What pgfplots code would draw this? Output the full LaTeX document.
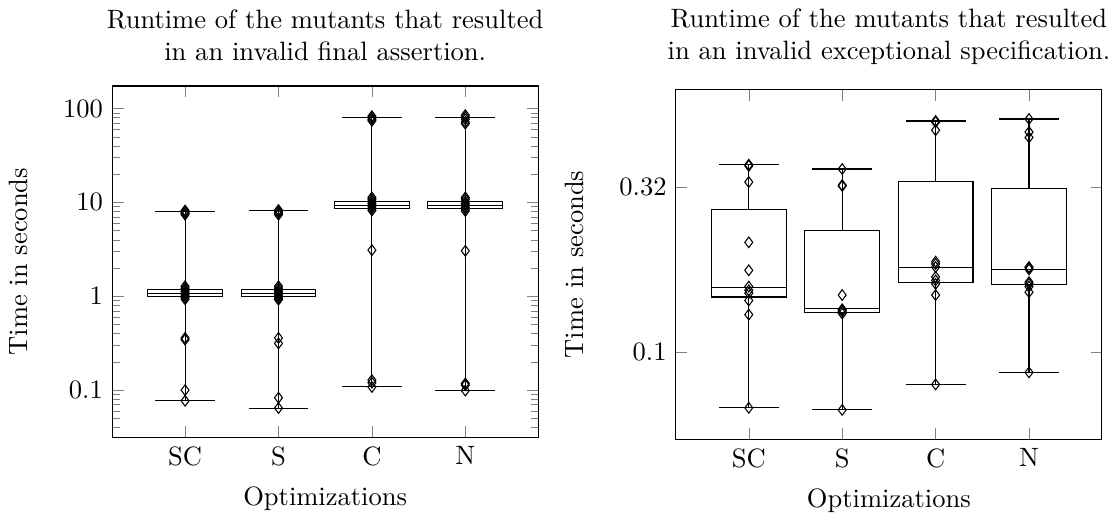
\documentclass[border=0pt]{standalone}
\usepackage{pgfplots}
\pgfplotsset{compat=1.18}
\usepgfplotslibrary{statistics}

\begin{document}
\begin{tikzpicture}
% invalid final assertion
\begin{axis}[at={(0pt,0pt)},
    scale only axis, width=160.5pt, height=132.3pt,
    ymode=log, log ticks with fixed point,
    xmin=0.22, xmax=4.78, ymin=0.0316, ymax=174,
    xtick={1,2,3,4}, xticklabels={SC,S,C,N},
    xlabel={Optimizations}, ylabel={Time in seconds},
    ylabel shift=6.5pt, xlabel shift=1pt,
    title style={align=center},
    title={Runtime of the mutants that resulted\\in an invalid final assertion.},
    boxplot/draw direction=y]
\addplot[black, mark=diamond, boxplot prepared={draw position=1,
    lower whisker=0.0776, lower quartile=0.99, median=1.06,
    upper quartile=1.19, upper whisker=8.05}]
  table[row sep=\\, y index=0] {data\\ 8.2\\ 8.0\\ 7.8\\ 7.6\\ 7.4\\ 1.28\\ 1.22\\ 1.17\\ 1.12\\ 1.08\\ 1.04\\ 1.0\\ 0.97\\ 0.93\\ 0.36\\ 0.345\\ 0.1\\ 0.077\\};
\addplot[black, mark=diamond, boxplot prepared={draw position=2,
    lower whisker=0.0645, lower quartile=0.99, median=1.06,
    upper quartile=1.19, upper whisker=8.23}]
  table[row sep=\\, y index=0] {data\\ 8.3\\ 8.0\\ 7.7\\ 7.4\\ 1.28\\ 1.22\\ 1.16\\ 1.11\\ 1.07\\ 1.03\\ 0.99\\ 0.95\\ 0.92\\ 0.36\\ 0.315\\ 0.083\\ 0.0645\\};
\addplot[black, mark=diamond, boxplot prepared={draw position=3,
    lower whisker=0.109, lower quartile=8.7, median=9.3,
    upper quartile=10.25, upper whisker=79.7}]
  table[row sep=\\, y index=0] {data\\ 83\\ 80\\ 77\\ 74\\ 11.3\\ 10.8\\ 10.3\\ 9.8\\ 9.4\\ 9.0\\ 8.6\\ 8.2\\ 3.1\\ 0.128\\ 0.12\\ 0.108\\};
\addplot[black, mark=diamond, boxplot prepared={draw position=4,
    lower whisker=0.099, lower quartile=8.64, median=9.2,
    upper quartile=10.15, upper whisker=81}]
  table[row sep=\\, y index=0] {data\\ 85\\ 81\\ 77\\ 72\\ 69\\ 11.3\\ 10.8\\ 10.2\\ 9.7\\ 9.3\\ 8.9\\ 8.5\\ 8.1\\ 3.05\\ 0.118\\ 0.113\\ 0.099\\};
\end{axis}

% invalid exceptional specification
\begin{axis}[at={(212.4pt,-0.75pt)},
    scale only axis, width=160.5pt, height=131.6pt,
    ymode=log,
    xmin=0.22, xmax=4.78, ymin=0.0547, ymax=0.621,
    xtick={1,2,3,4}, xticklabels={SC,S,C,N},
    ytick={0.1,0.316}, yticklabels={0.1,0.32}, yminorticks=false,
    xlabel={Optimizations}, ylabel={Time in seconds},
    ylabel shift=6.5pt, xlabel shift=1pt,
    title style={align=center},
    title={Runtime of the mutants that resulted\\in an invalid exceptional specification.},
    boxplot/draw direction=y]
\addplot[black, mark=diamond, boxplot prepared={draw position=1,
    lower whisker=0.068, lower quartile=0.147, median=0.157,
    upper quartile=0.270, upper whisker=0.369}]
  table[row sep=\\, y index=0] {data\\ 0.369\\ 0.366\\ 0.327\\ 0.215\\ 0.177\\ 0.158\\ 0.154\\ 0.151\\ 0.1435\\ 0.130\\ 0.068\\};
\addplot[black, mark=diamond, boxplot prepared={draw position=2,
    lower whisker=0.067, lower quartile=0.132, median=0.136,
    upper quartile=0.233, upper whisker=0.358}]
  table[row sep=\\, y index=0] {data\\ 0.358\\ 0.320\\ 0.318\\ 0.149\\ 0.135\\ 0.134\\ 0.133\\ 0.131\\ 0.067\\};
\addplot[black, mark=diamond, boxplot prepared={draw position=3,
    lower whisker=0.080, lower quartile=0.163, median=0.181,
    upper quartile=0.328, upper whisker=0.500}]
  table[row sep=\\, y index=0] {data\\ 0.500\\ 0.496\\ 0.469\\ 0.188\\ 0.185\\ 0.181\\ 0.169\\ 0.165\\ 0.161\\ 0.149\\ 0.080\\};
\addplot[black, mark=diamond, boxplot prepared={draw position=4,
    lower whisker=0.087, lower quartile=0.160, median=0.178,
    upper quartile=0.313, upper whisker=0.507}]
  table[row sep=\\, y index=0] {data\\ 0.507\\ 0.463\\ 0.446\\ 0.181\\ 0.180\\ 0.178\\ 0.163\\ 0.161\\ 0.158\\ 0.152\\ 0.087\\};
\end{axis}
\end{tikzpicture}
\end{document}
